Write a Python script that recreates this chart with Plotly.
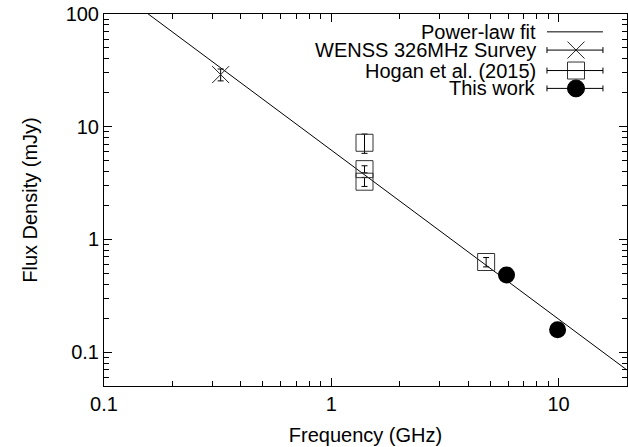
import plotly.graph_objects as go

# Data
fit_freq = [0.1, 20.0]
fit_flux = [196.0, 0.0693]

wenss_freq = [0.326]
wenss_flux = [29.0]
wenss_err = [3.5]

hogan_freq = [1.4, 1.4, 1.4, 4.8]
hogan_flux = [7.2, 4.2, 3.25, 0.63]
hogan_err = [1.4, 0.3, 0.3, 0.06]

this_freq = [5.9, 9.9]
this_flux = [0.484, 0.158]

legend_labels = ["Power-law fit", "WENSS 326MHz Survey", "Hogan et al. (2015)", "This work"]

x_ticks = [0.1, 1, 10]
y_ticks = [0.1, 1, 10, 100]
x_minor = [round(m * d, 3) for d in (0.1, 1, 10) for m in range(2, 10) if m * d <= 20]
y_minor = [round(m * d, 3) for d in (0.01, 0.1, 1, 10) for m in range(2, 10) if 0.05 <= m * d <= 100]

FONT = "Liberation Sans, Arial, sans-serif"
FS = 20

fig = go.Figure()

fig.add_trace(go.Scatter(x=fit_freq, y=fit_flux, mode="lines",
                         line=dict(color="black", width=1), showlegend=False))

eb = dict(type="data", thickness=1, width=3, color="black")

fig.add_trace(go.Scatter(x=wenss_freq, y=wenss_flux, mode="markers",
                         error_y=dict(array=wenss_err, **eb),
                         marker=dict(symbol="x-thin-open", size=17,
                                     line=dict(color="#222", width=1), color="#222"),
                         showlegend=False))

fig.add_trace(go.Scatter(x=hogan_freq, y=hogan_flux, mode="markers",
                         error_y=dict(array=hogan_err, **eb),
                         marker=dict(symbol="square-open", size=17,
                                     line=dict(color="#333", width=1), color="#333"),
                         showlegend=False))

fig.add_trace(go.Scatter(x=this_freq, y=this_flux, mode="markers",
                         marker=dict(symbol="circle", size=17, color="black"),
                         showlegend=False))

# Manual legend (text right, sample to the right, gnuplot style)
rows_y = [0.952, 0.903, 0.848, 0.800]
x0, x1, xc, xt = 0.847, 0.954, 0.9025, 0.830
for i, (lab, yy) in enumerate(zip(legend_labels, rows_y)):
    fig.add_annotation(xref="paper", yref="paper", x=xt, y=yy, text=lab,
                       showarrow=False, xanchor="right", yanchor="middle",
                       font=dict(family=FONT, size=FS, color="black"))
    fig.add_shape(type="line", xref="paper", yref="paper", x0=x0, x1=x1, y0=yy, y1=yy,
                  line=dict(color="black", width=1))
    if i > 0:
        for xe in (x0, x1):
            fig.add_shape(type="line", xref="paper", yref="paper", x0=xe, x1=xe,
                          y0=yy - 0.008, y1=yy + 0.008, line=dict(color="black", width=1))

fig.add_trace(go.Scatter(x=[xc, xc], y=[rows_y[1], rows_y[3]], mode="markers", xaxis="x2", yaxis="y2",
                         marker=dict(symbol=["x-thin-open", "circle"], size=17, color=["#222", "black"],
                                     line=dict(color=["#222", "black"], width=1)),
                         showlegend=False, hoverinfo="skip"))
fig.add_trace(go.Scatter(x=[xc], y=[rows_y[2]], mode="markers", xaxis="x2", yaxis="y2",
                         marker=dict(symbol="square", size=16, color="white"),
                         showlegend=False, hoverinfo="skip"))
fig.add_trace(go.Scatter(x=[xc], y=[rows_y[2]], mode="markers", xaxis="x2", yaxis="y2",
                         marker=dict(symbol="square-open", size=17, color="#333",
                                     line=dict(color="#333", width=1)),
                         showlegend=False, hoverinfo="skip"))

# invisible trace to anchor the major-tick overlay axes
fig.add_trace(go.Scatter(x=[1], y=[1], mode="markers", xaxis="x3", yaxis="y3",
                         marker=dict(opacity=0), showlegend=False, hoverinfo="skip"))

base = dict(type="log", showline=True, linecolor="black", linewidth=1, mirror="allticks",
            ticks="inside", tickcolor="black", tickwidth=1.3, showgrid=False, zeroline=False,
            tickfont=dict(family=FONT, size=FS, color="black"), tickmode="array")

xr = [-1, 1.30103]
yr = [-1.30103, 2]
x_all = sorted(x_ticks + x_minor)
y_all = sorted(y_ticks + y_minor)

fig.update_layout(
    width=628, height=447,
    margin=dict(l=104, r=1, t=14, b=61),
    plot_bgcolor="white", paper_bgcolor="white",
    xaxis=dict(range=xr, title=dict(text="Frequency (GHz)", standoff=13,
               font=dict(family=FONT, size=FS, color="black")),
               tickvals=x_all, ticktext=[str(v) if v in x_ticks else "" for v in x_all],
               ticklen=5, **base),
    yaxis=dict(range=yr, title=dict(text="Flux Density (mJy)", standoff=22,
               font=dict(family=FONT, size=FS, color="black")),
               tickvals=y_all, ticktext=[str(v) if v in y_ticks else "" for v in y_all],
               ticklen=5, **base),
    xaxis2=dict(range=[0, 1], overlaying="x", visible=False),
    yaxis2=dict(range=[0, 1], overlaying="y", visible=False),
    xaxis3=dict(range=xr, overlaying="x", tickvals=x_ticks, ticklen=8, showticklabels=False,
                **{k: v for k, v in base.items() if k != "tickfont"}),
    yaxis3=dict(range=yr, overlaying="y", tickvals=y_ticks, ticklen=8, showticklabels=False,
                **{k: v for k, v in base.items() if k != "tickfont"}),
    showlegend=False,
)

fig.write_html("out.html")
